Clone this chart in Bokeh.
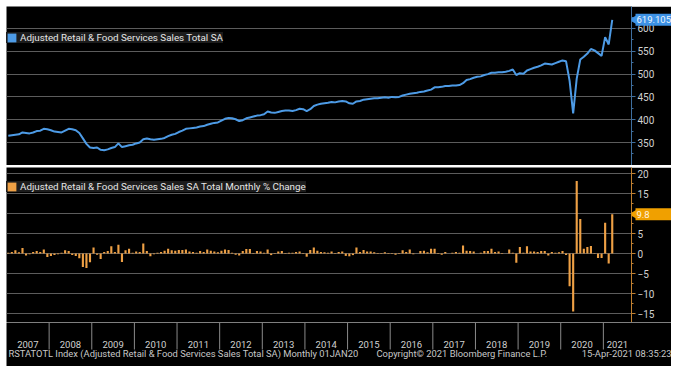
from bokeh.plotting import figure
from bokeh.layouts import column, row
from bokeh.models import (ColumnDataSource, FixedTicker, Legend, LegendItem, Label, Range1d, Spacer)
from bokeh.embed import file_html
from bokeh.resources import INLINE
from bokeh.core.properties import value

# ---------------- data ----------------
years = list(range(2007, 2022))

level_2007 = [365, 366, 367, 368, 372, 371, 370, 372, 375, 376, 380, 379]
level_2008 = [377, 374, 373, 372, 376, 380, 379, 377, 371, 359, 347, 339]
level_2009 = [338, 339, 334, 333, 335, 338, 340, 348, 340, 342, 344, 345]
level_2010 = [348, 350, 357, 359, 357, 356, 357, 358, 360, 364, 367, 369]
level_2011 = [373, 376, 380, 381, 382, 383, 385, 386, 389, 391, 393, 394]
level_2012 = [398, 402, 404, 403, 401, 397, 399, 403, 405, 407, 409, 410]
level_2013 = [412, 418, 416, 415, 417, 419, 420, 420, 419, 421, 424, 423]
level_2014 = [419, 423, 430, 433, 435, 436, 437, 439, 438, 440, 441, 440]
level_2015 = [436, 435, 440, 441, 444, 445, 446, 447, 447, 448, 449, 448]
level_2016 = [450, 449, 450, 453, 455, 457, 458, 459, 461, 462, 464, 466]
level_2017 = [471, 471, 472, 474, 474, 475, 475, 476, 480, 487, 489, 492]
level_2018 = [494, 495, 498, 500, 503, 503, 504, 504, 505, 507, 510, 498]
level_2019 = [502, 501, 508, 511, 514, 516, 519, 523, 522, 521, 524, 527]
level_2020 = [530, 528, 485, 414, 490, 532, 538, 545, 555, 552, 546, 540]
level_2021 = [581, 565, 619.105]

pct_2007 = [0.2, 0.4, 0.8, 0.3, 1.4, -0.5, -0.2, 0.4, 0.6, 0.4, 1.0, -0.9]
pct_2008 = [-0.6, -0.4, -0.2, 0.2, 0.8, 0.6, -0.4, -0.6, -1.2, -3.4, -3.6, -2.2]
pct_2009 = [1.5, -0.3, -1.4, 0.4, 0.6, 1.8, 0.4, 2.2, -2.1, 0.8, 1.2, 0.2]
pct_2010 = [0.5, 0.4, 2.5, 0.6, -0.7, -0.2, 0.2, 0.4, 0.7, 1.2, 0.8, 0.7]
pct_2011 = [0.9, 0.9, 1.0, 0.5, 0.4, 0.2, 0.6, 0.4, 1.0, 0.7, 0.5, 0.3]
pct_2012 = [0.7, 1.0, 0.9, 0.2, -0.3, -0.5, 0.6, 1.1, 1.1, 0.1, 0.6, 0.5]
pct_2013 = [0.2, 1.0, -0.4, 0.1, 0.5, 0.6, 0.1, 0.2, 0.2, 0.4, 0.5, -0.1]
pct_2014 = [-0.8, 0.9, 1.5, 0.7, 0.4, 0.3, 0.2, 0.5, -0.1, 0.4, 0.5, -0.6]
pct_2015 = [-0.7, -0.4, 1.5, 0.4, 0.9, 0.5, 0.5, 0.3, 0.1, 0.1, 0.3, 0.1]
pct_2016 = [-0.1, -0.3, 0.1, 0.8, 0.4, 1.0, -0.2, 0.0, 0.6, 0.7, 0.3, 1.2]
pct_2017 = [1.2, 0.1, -0.3, 0.4, 0.0, 0.2, 0.4, 0.2, 2.0, 0.7, 0.6, 0.5]
pct_2018 = [0.0, 0.2, 0.6, 0.6, 1.2, 0.4, 0.5, 0.1, 0.0, 1.0, 0.2, -2.3]
pct_2019 = [1.6, 0.2, 1.8, 0.5, 0.5, 0.4, 0.6, 0.6, -0.5, 0.4, 0.2, 0.3]
pct_2020 = [0.6, -0.4, -8.2, -14.5, 18.1, 8.6, 1.2, 1.6, 1.9, -0.1, -1.1, -1.1]
pct_2021 = [7.7, -2.5, 9.8]

top_ticks = [350, 400, 450, 500, 550, 600]
top_minor = [325, 375, 425, 475, 525, 575, 625]
bot_ticks = [-15, -10, -5, 0, 5, 10, 15, 20]
bot_minor = [-17.5, -12.5, -7.5, -2.5, 2.5, 7.5, 12.5, 17.5]

top_title = "Adjusted Retail & Food Services Sales Total SA"
bot_title = "Adjusted Retail & Food Services Sales SA Total Monthly % Change"
footer_left = "RSTATOTL Index (Adjusted Retail & Food Services Sales Total SA)  Monthly 01JAN20"
footer_mid = "Copyright\u00a9 2021 Bloomberg Finance L.P."
footer_right = "15-Apr-2021 08:35:23"

levels = (level_2007 + level_2008 + level_2009 + level_2010 + level_2011 + level_2012 +
          level_2013 + level_2014 + level_2015 + level_2016 + level_2017 + level_2018 +
          level_2019 + level_2020 + level_2021)
pcts = (pct_2007 + pct_2008 + pct_2009 + pct_2010 + pct_2011 + pct_2012 + pct_2013 +
        pct_2014 + pct_2015 + pct_2016 + pct_2017 + pct_2018 + pct_2019 + pct_2020 + pct_2021)
months = [2007 + (i + 0.5) / 12 for i in range(len(levels))]

src = ColumnDataSource(dict(x=months, level=levels, pct=pcts))

# ---------------- styling ----------------
W = 665          # total black width
RB = 40          # right axis area
FW = W - RB      # frame width
BLUE = "#4d9be6"
ORANGE = "#eea045"
GRID = "#5c5c5c"
TXT = "#d0d0d0"
FONT = "Roboto"
NAN = float("nan")
X_START, X_END = 2007.0, 2021.66
xr = Range1d(X_START, X_END)
H_TOP, H_SEP, H_BOT, H_BAND = 159, 2, 155, 44
yr_top = Range1d(299.6, 648.2)
yr_bot = Range1d(-17.25, 21.5)


def base(height, yr):
    p = figure(width=W, height=height, x_range=xr, y_range=yr,
               x_axis_location=None, y_axis_location="right",
               output_backend="svg", toolbar_location=None,
               min_border_left=0, min_border_right=RB, min_border_top=0, min_border_bottom=0,
               background_fill_color="black", border_fill_color="black",
               outline_line_color=None)
    p.xgrid.visible = False
    p.ygrid.grid_line_color = GRID
    p.ygrid.grid_line_width = 1
    ax = p.yaxis[0]
    ax.major_tick_in = 0
    ax.major_tick_out = 4
    ax.minor_tick_in = 0
    ax.minor_tick_out = 2
    ax.major_label_text_color = TXT
    ax.major_label_text_font_size = "10px"
    ax.major_label_text_font = FONT
    ax.major_label_standoff = 2
    return p


def legend(item, y):
    return Legend(items=[item], location=(0, y),
                  label_text_font_size="9.8px", label_text_font=FONT, label_text_color="#e6e6e6",
                  label_height=10, glyph_height=11, glyph_width=11, padding=2, margin=0,
                  label_standoff=3, spacing=0, background_fill_color="#1c1c1c",
                  background_fill_alpha=1, border_line_color=None)


# ---------------- top panel ----------------
top = base(H_TOP, yr_top)
top.yaxis[0].ticker = FixedTicker(ticks=top_ticks, minor_ticks=top_minor)
for attr in ("axis_line_color", "major_tick_line_color", "minor_tick_line_color"):
    setattr(top.yaxis[0], attr, "#3f6f9f")
top.line("x", "level", source=src, line_color=BLUE, line_width=2)
# legend key only: a NaN quad draws nothing in the plot but gives a filled square key
key_top = top.quad(left=[NAN], right=[NAN], top=[NAN], bottom=[NAN],
                   fill_color=BLUE, line_color=None)
top.add_layout(legend(LegendItem(label=top_title, renderers=[key_top]), 122))

# ---------------- separator ----------------
sep = figure(width=W, height=H_SEP, x_range=xr, y_range=Range1d(0, 1),
             x_axis_location=None, y_axis_location=None, output_backend="svg",
             toolbar_location=None, min_border_left=0, min_border_right=0,
             min_border_top=0, min_border_bottom=0,
             background_fill_color="#707070", border_fill_color="#707070",
             outline_line_color=None)
sep.grid.visible = False

# ---------------- bottom panel ----------------
bot = base(H_BOT, yr_bot)
bot.yaxis[0].ticker = FixedTicker(ticks=bot_ticks, minor_ticks=bot_minor)
for attr in ("axis_line_color", "major_tick_line_color", "minor_tick_line_color"):
    setattr(bot.yaxis[0], attr, "#c08030")
bars = bot.vbar(x="x", top="pct", bottom=0, width=0.05, source=src,
                fill_color=ORANGE, line_color=None)
bot.add_layout(legend(LegendItem(label=bot_title, renderers=[bars]), 130))

# ---------------- x band (full width, same scale as panels) ----------------
band_xr = Range1d(X_START, X_START + (X_END - X_START) * W / FW)
band = figure(width=W, height=H_BAND, x_range=band_xr, y_range=Range1d(0, H_BAND),
              x_axis_location=None, y_axis_location=None, output_backend="svg",
              toolbar_location=None, min_border_left=0, min_border_right=0,
              min_border_top=0, min_border_bottom=0,
              background_fill_color="black", border_fill_color="black",
              outline_line_color=None)
band.grid.visible = False
band.segment(x0=years[1:], x1=years[1:], y0=17, y1=H_BAND, line_color="#8a8a8a", line_width=1)
label_x = [(y + min(y + 1, X_END)) / 2 for y in years]
band.text(x=label_x, y=[22] * len(years), text=[str(y) for y in years],
          text_align="center", text_baseline="middle", text_color=TXT,
          text_font_size="9.5px", text_font=value(FONT))
for txt, xpos, align in ((footer_left, 2, "left"), (footer_mid, 370, "left"),
                         (footer_right, W, "right")):
    band.add_layout(Label(x=xpos, y=13, x_units="screen", y_units="screen", text=txt,
                          text_font_size="9.4px", text_font=FONT, text_color="#c8c8c8",
                          text_baseline="middle", text_align=align))


# ---------------- last-value tags (overlaid on the right axis area) ----------------
def tag_fig(height, yr, yval, txt, color, text_color):
    t = figure(width=RB, height=height, x_range=Range1d(0, RB), y_range=yr,
               x_axis_location=None, y_axis_location=None, output_backend="svg",
               toolbar_location=None, min_border_left=0, min_border_right=0,
               min_border_top=0, min_border_bottom=0,
               background_fill_alpha=0, border_fill_alpha=0, outline_line_color=None)
    t.grid.visible = False
    t.rect(x=[RB / 2 + 2], y=[yval], width=RB - 4, height=12, height_units="screen",
           fill_color=color, line_color=None)
    t.scatter(x=[3], y=[yval], marker="triangle", angle=1.5708, size=10,
              fill_color=color, line_color=None)
    t.text(x=[5], y=[yval], text=[txt], text_baseline="middle", text_align="left",
           text_color=text_color, text_font_size="9.5px", text_font=value(FONT))
    return t


tag_top = tag_fig(H_TOP, yr_top, levels[-1], f"{levels[-1]:.3f}", "#3d92e6", "#eef6ff")
tag_bot = tag_fig(H_BOT, yr_bot, pcts[-1], f"{pcts[-1]:.1f}", "#f0a000", "#fff4e0")

panels = column(top, sep, bot, spacing=0)
tags = column(tag_top, Spacer(width=RB, height=H_SEP), tag_bot, spacing=0,
              margin=(0, 0, 0, -RB))
layout = column(row(panels, tags, spacing=0), band, spacing=0, margin=(6, 0, 0, 6))
open("out.html", "w").write(file_html(layout, INLINE))
